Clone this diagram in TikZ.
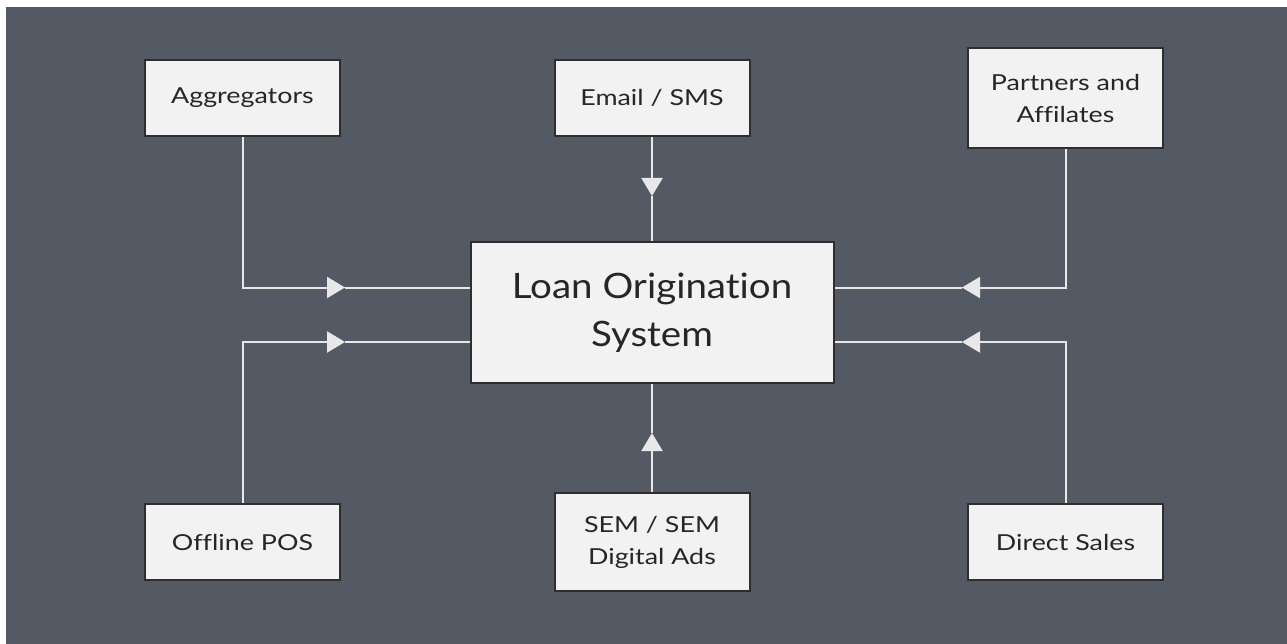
\documentclass[tikz,border=0pt]{standalone}
\usepackage{fontspec}
\setmainfont{Lato}
\newfontfamily\smallfnt[FakeStretch=1.22,Ligatures=NoCommon]{Lato}
\newfontfamily\bigfnt[FakeStretch=1.1,Ligatures=NoCommon]{Lato}
\usetikzlibrary{arrows.meta}
\definecolor{bgc}{HTML}{535A63}
\definecolor{boxfill}{HTML}{F2F2F2}
\definecolor{boxline}{HTML}{2E2E2E}
\definecolor{linec}{HTML}{E8E8E8}
\begin{document}
\begin{tikzpicture}[x=1pt,y=-1pt,
  box/.style={draw=boxline, line width=2pt, fill=boxfill, rectangle, inner sep=0pt,
    minimum width=195pt, align=center, text=black!85,
    font=\smallfnt\fontsize{22}{32}\selectfont},
  bigbox/.style={box, minimum width=363pt, minimum height=141pt,
    font=\bigfnt\fontsize{35}{48}\selectfont},
  conn/.style={draw=linec, line width=2pt},
  tip/.style={-{Triangle[length=18pt,width=21pt]}}]
\useasboundingbox (0,0) rectangle (1287,644);
\fill[white] (0,0) rectangle (1287,644);
\fill[bgc] (6,7) rectangle (1287,644);

\node[box, minimum height=76pt] (agg) at (242.5,98) {Aggregators};
\node[box, minimum height=76pt] (email) at (652,98) {Email / SMS};
\node[box, minimum height=100pt] (part) at (1065.5,98) {Partners and\\Affilates};
\node[bigbox] (los) at (652,312.5) {Loan Origination\\System};
\node[box, minimum height=76pt] (pos) at (242.5,542) {Offline POS};
\node[box, minimum height=98pt] (sem) at (652,542) {SEM / SEM\\Digital Ads};
\node[box, minimum height=76pt] (ds) at (1065.5,542) {Direct Sales};

\coordinate (t1) at (345,287.5);
\coordinate (t2) at (345,342);
\coordinate (t3) at (652,196);
\coordinate (t4) at (652,433);
\coordinate (t5) at (962,287.5);
\coordinate (t6) at (962,342);

\draw[conn,tip] (agg.south) |- (t1);
\draw[conn] (t1) -- (t1 -| los.west);
\draw[conn,tip] (pos.north) |- (t2);
\draw[conn] (t2) -- (t2 -| los.west);
\draw[conn,tip] (email.south) -- (t3);
\draw[conn] (t3) -- (los.north);
\draw[conn,tip] (sem.north) -- (t4);
\draw[conn] (t4) -- (los.south);
\draw[conn,tip] (part.south) |- (t5);
\draw[conn] (t5) -- (t5 -| los.east);
\draw[conn,tip] (ds.north) |- (t6);
\draw[conn] (t6) -- (t6 -| los.east);
\end{tikzpicture}
\end{document}
